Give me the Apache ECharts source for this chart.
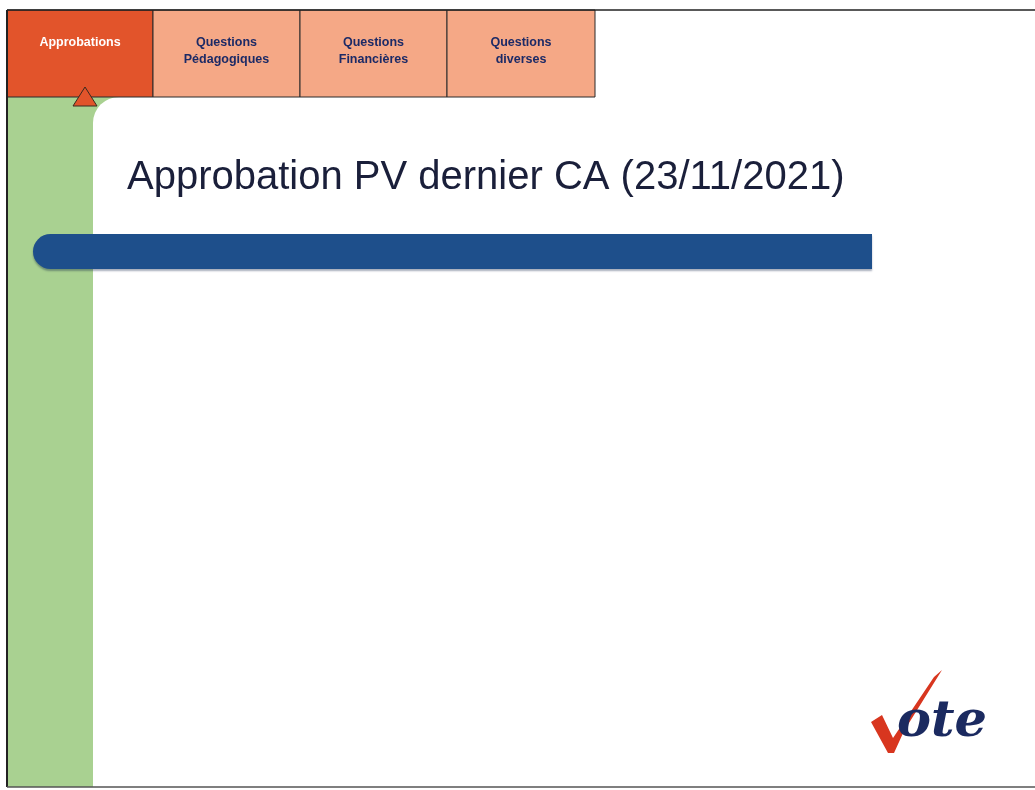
<!DOCTYPE html>
<html>
<head>
<meta charset="utf-8">
<script src="https://cdn.jsdelivr.net/npm/echarts@6/dist/echarts.min.js"></script>
<style>
  html, body { margin: 0; padding: 0; background: #fff; }
  #slide { width: 1035px; height: 790px; }
</style>
</head>
<body>
<div id="slide"></div>
<script>
// tabs across the top of the slide
var tabNames = ['Approbations', 'Questions\nPédagogiques', 'Questions\nFinancières', 'Questions\ndiverses'];
var tabEdges = [7, 153, 300, 447, 595];
var activeTab = 0;
var slideTitle = 'Approbation PV dernier CA (23/11/2021)';
var logoText = 'ote';

var chart = echarts.init(document.getElementById('slide'));

var els = [];

// green strip on the left, white panel with a rounded corner on top of it
els.push({ type: 'rect', shape: { x: 7, y: 97, width: 130, height: 690 }, style: { fill: '#a9d191' } });
els.push({ type: 'rect', shape: { x: 93, y: 97, width: 945, height: 690, r: [26, 0, 0, 0] }, style: { fill: '#ffffff' } });

// tabs
for (var i = 0; i < tabNames.length; i++) {
  var x0 = tabEdges[i], x1 = tabEdges[i + 1];
  var on = i === activeTab;
  els.push({
    type: 'rect',
    shape: { x: x0, y: 10, width: x1 - x0, height: 87 },
    style: { fill: on ? '#e2542b' : '#f5a886', stroke: '#2a2a2a', lineWidth: 1 }
  });
  els.push({
    type: 'text',
    x: (x0 + x1) / 2,
    y: on ? 43 : 51,
    style: {
      text: tabNames[i],
      fill: on ? '#ffffff' : '#1c2a66',
      font: 'bold 12.5px "Liberation Sans Narrow", "Liberation Sans", Arial',
      lineHeight: 17,
      align: 'center',
      verticalAlign: 'middle'
    }
  });
}

// marker under the active tab
els.push({
  type: 'polygon',
  shape: { points: [[85, 87], [73, 106], [97, 106]] },
  style: { fill: '#e2542b', stroke: '#3a2a20', lineWidth: 1 }
});

// frame lines
els.push({ type: 'line', shape: { x1: 7, y1: 10, x2: 1035, y2: 10 }, style: { stroke: '#222', lineWidth: 1.5 } });
els.push({ type: 'line', shape: { x1: 7, y1: 10, x2: 7, y2: 787 }, style: { stroke: '#222', lineWidth: 2 } });
els.push({ type: 'line', shape: { x1: 7, y1: 787, x2: 1035, y2: 787 }, style: { stroke: '#555', lineWidth: 1.5 } });

// title
els.push({
  type: 'text',
  x: 127,
  y: 178,
  style: {
    text: slideTitle,
    fill: '#1a1f3a',
    font: '40px "Liberation Sans", Arial, sans-serif',
    verticalAlign: 'middle'
  }
});

// blue bar under the title
els.push({
  type: 'rect',
  shape: { x: 33, y: 234, width: 839, height: 35, r: [18, 0, 0, 18] },
  style: { fill: '#1e4f8b', shadowColor: 'rgba(0,20,60,0.35)', shadowOffsetY: 2, shadowBlur: 2 }
});

// "Vote" logo: tick mark + text
els.push({
  type: 'polygon',
  shape: { points: [[871, 722], [882, 715], [893, 738], [934, 677], [942, 670], [904, 731], [894, 753], [888, 753]] },
  style: { fill: '#d8361f' }
});
els.push({
  type: 'text',
  x: 897,
  y: 748,
  style: {
    text: logoText,
    fill: '#1b2a60',
    font: 'italic bold 51px "DejaVu Serif", "Liberation Serif", serif',
    verticalAlign: 'bottom',
    lineHeight: 51
  }
});

chart.setOption({
  animation: false,
  backgroundColor: '#ffffff',
  graphic: { elements: els }
});
</script>
</body>
</html>
